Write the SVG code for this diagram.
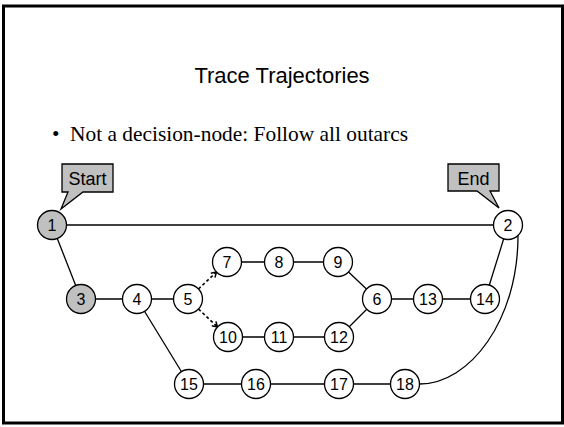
<svg xmlns="http://www.w3.org/2000/svg" width="564" height="427" viewBox="0 0 564 427">
<style>
.node circle{fill:#fff;stroke:#000;stroke-width:1.3}
.node.g circle{fill:#c0c0c0}
.node text{font-family:"Liberation Sans",Arial,sans-serif;font-size:16px;text-anchor:middle;fill:#000}
.edge{stroke:#000;stroke-width:1.3;fill:none}
.dash{stroke:#000;stroke-width:1.6;fill:none;stroke-dasharray:3,2.5}
.call path{fill:#c0c0c0;stroke:#000;stroke-width:1.3}
.call text{font-family:"Liberation Sans",Arial,sans-serif;font-size:18px;text-anchor:middle;fill:#000}
</style>
<defs>
<marker id="arr" markerWidth="8" markerHeight="8" refX="6" refY="4" orient="auto" markerUnits="userSpaceOnUse">
<path d="M1,1 L6,4 L1,7" fill="none" stroke="#000" stroke-width="1.5"/>
</marker>
</defs>
<rect x="3.5" y="6" width="559" height="417" fill="#fff" stroke="#000" stroke-width="3"/>
<text x="282" y="83" font-family="Liberation Sans,Arial,sans-serif" font-size="22" text-anchor="middle">Trace Trajectories</text>
<text x="52" y="141" font-family="Liberation Serif,Times New Roman,serif" font-size="21.4">•</text>
<text x="70" y="141" font-family="Liberation Serif,Times New Roman,serif" font-size="21.4">Not a decision-node: Follow all outarcs</text>
<g id="connectors">
<line class="edge" x1="52" y1="225" x2="508" y2="225"/>
<line class="edge" x1="52" y1="225" x2="81" y2="299"/>
<line class="edge" x1="81" y1="299" x2="188" y2="299"/>
<line class="edge" x1="227" y1="262" x2="338" y2="262"/>
<line class="edge" x1="338" y1="262" x2="377" y2="299"/>
<line class="edge" x1="228" y1="337" x2="339" y2="337"/>
<line class="edge" x1="339" y1="337" x2="377" y2="299"/>
<line class="edge" x1="377" y1="299" x2="485" y2="299"/>
<line class="edge" x1="485" y1="299" x2="508" y2="225"/>
<line class="edge" x1="137" y1="299" x2="189" y2="384"/>
<line class="edge" x1="189" y1="384" x2="405" y2="384"/>
<path class="edge" d="M419.5,384 C470,384 518,320 518,236"/>
<line class="dash" x1="198.5" y1="289" x2="216.5" y2="272" marker-end="url(#arr)"/>
<line class="dash" x1="198.5" y1="309" x2="217.5" y2="327" marker-end="url(#arr)"/>
</g>
<g id="start" class="call"><path d="M62,164 H113 V192 H83 L61,209 L68,192 H62 Z"/><text x="87.5" y="185">Start</text></g>
<g id="end" class="call"><path d="M448,164 H499 V191 H490 L499,208 L477,191 H448 Z"/><text x="473.5" y="184.5">End</text></g>
<g id="n1" class="node g"><circle cx="52" cy="225" r="14.5"/><text x="52" y="230.8">1</text></g>
<g id="n2" class="node"><circle cx="508" cy="225" r="14.5"/><text x="508" y="230.8">2</text></g>
<g id="n3" class="node g"><circle cx="81" cy="299" r="14.5"/><text x="81" y="304.8">3</text></g>
<g id="n4" class="node"><circle cx="137" cy="299" r="14.5"/><text x="137" y="304.8">4</text></g>
<g id="n5" class="node"><circle cx="188" cy="299" r="14.5"/><text x="188" y="304.8">5</text></g>
<g id="n7" class="node"><circle cx="227" cy="262" r="14.5"/><text x="227" y="267.8">7</text></g>
<g id="n8" class="node"><circle cx="279" cy="262" r="14.5"/><text x="279" y="267.8">8</text></g>
<g id="n9" class="node"><circle cx="338" cy="262" r="14.5"/><text x="338" y="267.8">9</text></g>
<g id="n6" class="node"><circle cx="377" cy="299" r="14.5"/><text x="377" y="304.8">6</text></g>
<g id="n13" class="node"><circle cx="428" cy="299" r="14.5"/><text x="428" y="304.8">13</text></g>
<g id="n14" class="node"><circle cx="485" cy="299" r="14.5"/><text x="485" y="304.8">14</text></g>
<g id="n10" class="node"><circle cx="228" cy="337" r="14.5"/><text x="228" y="342.8">10</text></g>
<g id="n11" class="node"><circle cx="279" cy="337" r="14.5"/><text x="279" y="342.8">11</text></g>
<g id="n12" class="node"><circle cx="339" cy="337" r="14.5"/><text x="339" y="342.8">12</text></g>
<g id="n15" class="node"><circle cx="189" cy="384" r="14.5"/><text x="189" y="389.8">15</text></g>
<g id="n16" class="node"><circle cx="256" cy="384" r="14.5"/><text x="256" y="389.8">16</text></g>
<g id="n17" class="node"><circle cx="339" cy="384" r="14.5"/><text x="339" y="389.8">17</text></g>
<g id="n18" class="node"><circle cx="405" cy="384" r="14.5"/><text x="405" y="389.8">18</text></g>
</svg>
